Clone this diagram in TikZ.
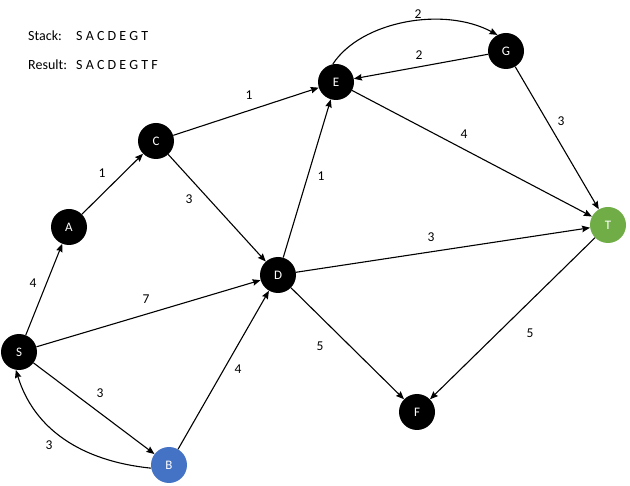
\documentclass[tikz,border=0pt]{standalone}
\usepackage{fontspec}
\setmainfont{Carlito}
\usetikzlibrary{arrows.meta}
\definecolor{tgreen}{HTML}{70AD47}
\definecolor{bblue}{HTML}{4472C4}
\begin{document}
\begin{tikzpicture}[x=1pt,y=-1pt,
  vert/.style={circle,fill=black,minimum size=36pt,inner sep=0pt,text=white,font=\fontsize{13}{14}\selectfont},
  lbl/.style={font=\fontsize{13.5}{14}\selectfont,inner sep=0pt},
  info/.style={font=\fontsize{14}{16}\selectfont,inner sep=0pt,anchor=west},
  edge/.style={line width=1.1pt,-{Stealth[length=8pt,width=6.5pt,inset=1pt]}}]
\useasboundingbox (0,0) rectangle (630,486);
\node[info] (stk) at (28,36) {Stack:};
\node[info] (stkv) at (76,36) {S A C D E G T};
\node[info] (res) at (28,65) {Result:};
\node[info] (resv) at (76,65) {S A C D E G T F};

\node[vert] (S) at (19,352) {S};
\node[vert] (A) at (69,227) {A};
\node[vert] (C) at (156,141) {C};
\node[vert] (E) at (336,82) {E};
\node[vert] (G) at (506,51) {G};
\node[vert] (D) at (278,275) {D};
\node[vert,fill=tgreen] (T) at (608,225) {T};
\node[vert] (F) at (417,412) {F};
\node[vert,fill=bblue] (B) at (169,465) {B};

\draw[edge] (S) -- (A);
\draw[edge] (A) -- (C);
\draw[edge] (C) -- (E);
\draw[edge] (C) -- (D);
\draw[edge] (D) -- (E);
\draw[edge] (E.100) .. controls (361,21) and (444,6) .. (G.118);
\draw[edge] (G) -- (E);
\draw[edge] (E) -- (T);
\draw[edge] (G) -- (T);
\draw[edge] (D) -- (T);
\draw[edge] (S) -- (D);
\draw[edge] (S) -- (B);
\draw[edge] (B.190) .. controls (81,461) and (34,429) .. (S.-100);
\draw[edge] (B) -- (D);
\draw[edge] (D) -- (F);
\draw[edge] (T) -- (F);

\node[lbl] (l1) at (418,14) {2};
\node[lbl] (l2) at (419,55) {2};
\node[lbl] (l3) at (249,95) {1};
\node[lbl] (l4) at (464,134) {4};
\node[lbl] (l5) at (561,121) {3};
\node[lbl] (l6) at (102,173) {1};
\node[lbl] (l7) at (189,199) {3};
\node[lbl] (l8) at (321,176) {1};
\node[lbl] (l9) at (431,237) {3};
\node[lbl] (l10) at (33,283) {4};
\node[lbl] (l11) at (146,299) {7};
\node[lbl] (l12) at (320,346) {5};
\node[lbl] (l13) at (530,333) {5};
\node[lbl] (l14) at (100,393) {3};
\node[lbl] (l15) at (238,369) {4};
\node[lbl] (l16) at (49,445) {3};
\end{tikzpicture}
\end{document}
